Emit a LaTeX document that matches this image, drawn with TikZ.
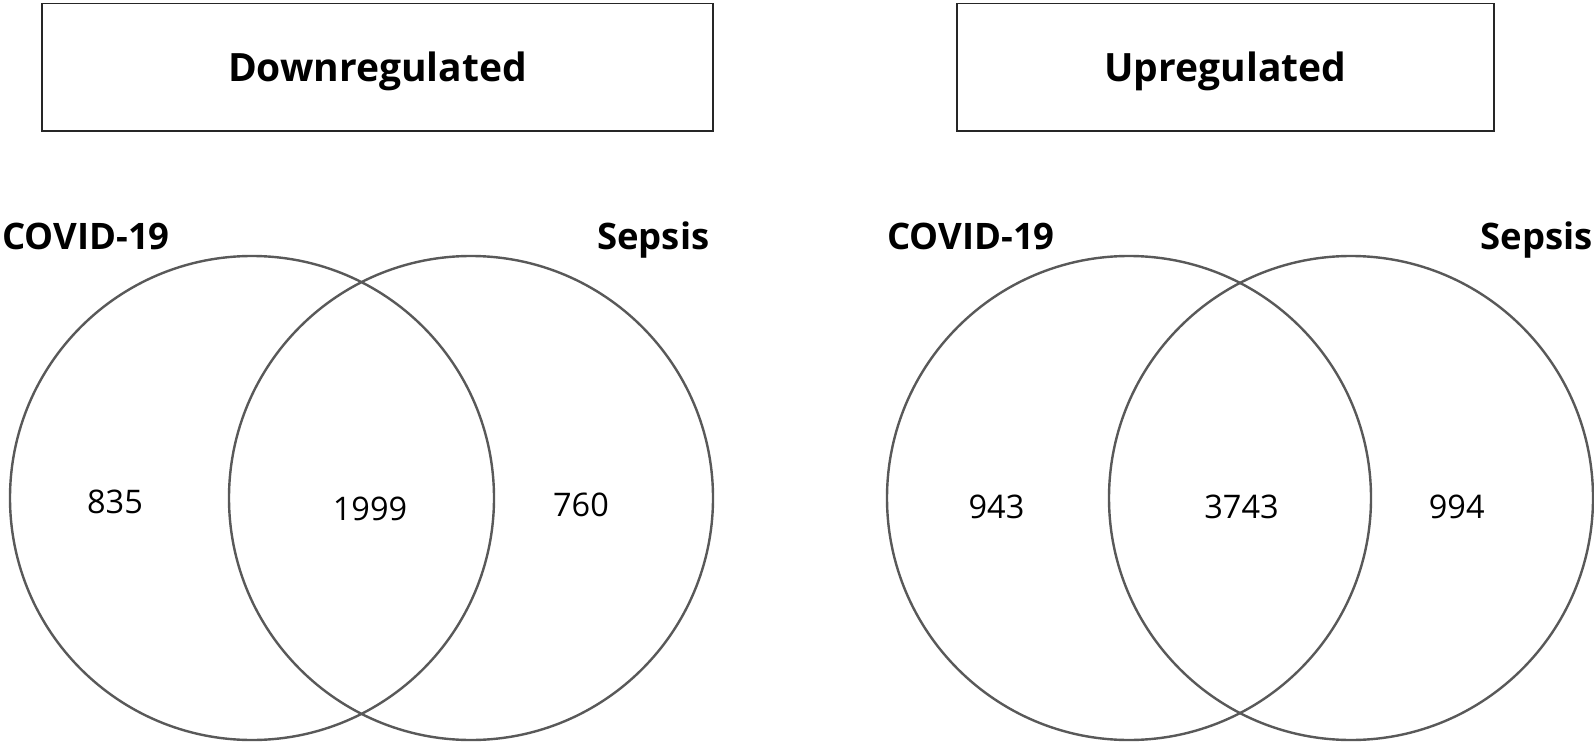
\documentclass[tikz,border=0pt]{standalone}
\usepackage{fontspec}
\setmainfont{Open Sans}
\begin{document}
\begin{tikzpicture}[x=1pt,y=-1pt,
  titlebox/.style={draw=black!85, line width=1.8pt, minimum width=671pt, minimum height=127.5pt, inner sep=0pt,
    text height=28pt, text depth=0pt, font=\fontsize{39}{43}\selectfont\bfseries},
  vset/.style={circle, draw=black!65, line width=2.4pt, minimum size=484pt, inner sep=0pt},
  setlabel/.style={inner sep=0pt, font=\fontsize{36.5}{40}\selectfont\bfseries},
  count/.style={inner sep=0pt, anchor=base, font=\fontsize{32.5}{36}\selectfont}]
\useasboundingbox (0,0) rectangle (1594,746);
\fill[white] (0,0) rectangle (1594,746);
% titles
\node[titlebox] (tdown) at (377.5,67.25) {Downregulated};
\node[titlebox, minimum width=536.5pt] (tup) at (1225.4,67.25) {Upregulated};
% left Venn
\node[vset] (lc) at (252,498) {};
\node[vset] (ls) at (471,498) {};
\node[setlabel, anchor=base west] (lcl) at (2,249) {COVID-19};
\node[setlabel, anchor=base west] (lsl) at (597,249) {Sepsis};
\node[count] (n835) at (115,513) {835};
\node[count] (n1999) at (370,520) {1999};
\node[count] (n760) at (581,516) {760};
% right Venn
\node[vset] (rc) at (1129,498) {};
\node[vset] (rs) at (1351,498) {};
\node[setlabel, anchor=base west] (rcl) at (887,249) {COVID-19};
\node[setlabel, anchor=base east] (rsl) at (1593,249) {Sepsis};
\node[count] (n943) at (996.5,518) {943};
\node[count] (n3743) at (1241.5,518) {3743};
\node[count] (n994) at (1456.7,518) {994};
\end{tikzpicture}
\end{document}
